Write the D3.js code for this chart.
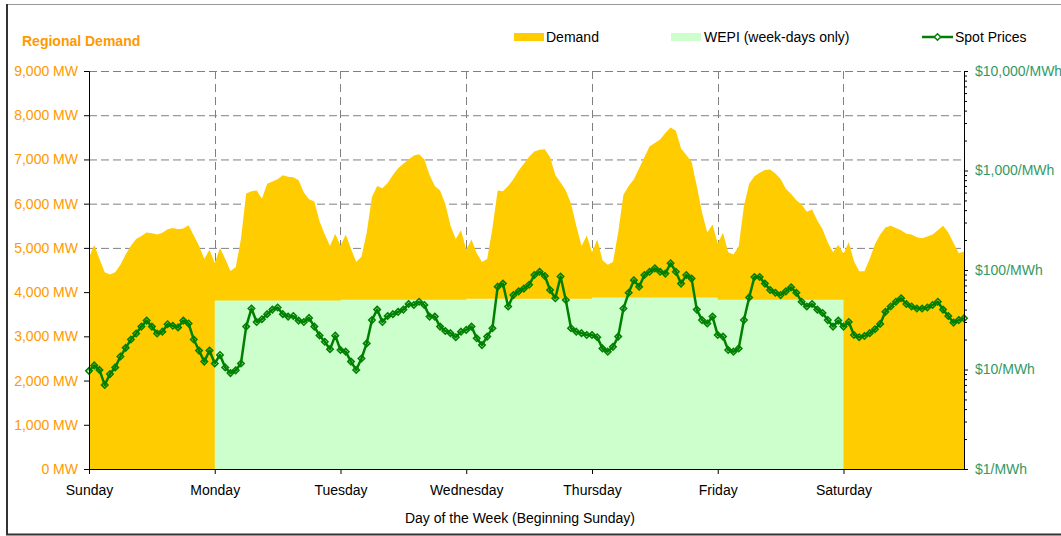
<!DOCTYPE html>
<html><head><meta charset="utf-8">
<script src="https://cdn.jsdelivr.net/npm/d3@7"></script>
<style>
html,body{margin:0;padding:0;background:#fff;}
svg{display:block;font-family:"Liberation Sans",Arial,sans-serif;}
</style></head>
<body><svg id="c" width="1061" height="536"></svg>
<script>
// ---- data ----
const dayLabels = ["Sunday","Monday","Tuesday","Wednesday","Thursday","Friday","Saturday"];
const demandSun = [4780,5070,4750,4450,4400,4450,4620,4850,5050,5200,5270,5350,5330,5300,5340,5420,5450,5420,5440,5510,5280,5050,4750,4960];
const demandMon = [4660,5000,4750,4480,4560,5200,6230,6280,6300,6110,6450,6500,6550,6640,6610,6600,6530,6250,6100,6050,5600,5300,5040,5320];
const demandTue = [5050,5300,4980,4680,4800,5340,6150,6400,6350,6470,6650,6800,6900,7000,7090,7115,7000,6650,6400,6300,6000,5500,5200,5400];
const demandWed = [4960,5190,4880,4680,4750,5450,6300,6280,6400,6550,6750,6900,7060,7180,7220,7230,7050,6650,6480,6300,6000,5500,5040,5280];
const demandThu = [4900,5190,4720,4620,4680,5350,6200,6400,6550,6800,7050,7300,7370,7450,7600,7720,7650,7250,7100,6950,6400,5800,5350,5530];
const demandFri = [5100,5340,4900,4850,5030,5950,6450,6620,6700,6760,6775,6680,6560,6340,6220,6080,5980,5820,5870,5620,5420,5120,4900,5070];
const demandSat = [4870,5130,4700,4470,4470,4750,5080,5300,5460,5500,5450,5400,5320,5300,5240,5220,5260,5300,5400,5500,5350,5110,4880,4920];

const priceSun = [9.7,11.0,9.9,7.0,9.0,10.5,13.5,16.5,20,23,27,31,27,23,24,28.5,27.5,26.5,31,29,20,15.5,12,15.5];
const priceMon = [11.5,14,10.5,9.2,9.8,11.5,27,41,30,32,36,40,42,36,34,34.5,31,30,33,27,22,19,16,21.9];
const priceTue = [15.7,15.1,12.0,9.9,12.9,18.3,31.4,40,30,34.5,36,38,40,45.5,44.5,48,44.5,34,34,27,24.4,23.2,21.1,24];
const priceWed = [25,27,20.6,17.6,21.4,26,68,73,43,56,61,65,71,89,96,87,63,52,86,50,26,24,23.2,22.2];
const priceThu = [22.2,21.1,16.3,15.1,16.9,21.4,41,59,79,68,89,96,104,96,92,117,96,73,89,82,40,31.4,29,34];
const priceFri = [22.2,21.4,15.7,15.1,16.3,31.4,53,85,85,73,63,59,56,61,67,59,48,43,45.5,40,37,31.4,27,31];
const priceSat = [27,30,22.2,21.1,21.7,23.2,25.4,28.7,38,43,48,52,45.5,43,41,41,42,44.5,48,40,34.5,29.6,31.4,32.7];

const wepiDayIndex = [1,2,3,4,5];           // Monday..Friday
const wepiMW = [3810,3830,3850,3880,3830];

const leftTicks = [0,1000,2000,3000,4000,5000,6000,7000,8000,9000];
const rightTicks = [1,10,100,1000,10000];

const demand = [].concat(demandSun,demandMon,demandTue,demandWed,demandThu,demandFri,demandSat);
const price = [].concat(priceSun,priceMon,priceTue,priceWed,priceThu,priceFri,priceSat);
const hoursPerDay = 24;

// ---- layout ----
const svg = d3.select("#c");
const L = 89, R = 964, T = 71, B = 469;
const x = d3.scaleLinear().domain([0, demand.length - 1]).range([L, R]);
const yL = d3.scaleLinear().domain([0, 9000]).range([B, T]);
const yR = d3.scaleLog().domain([1, 10000]).range([B, T]);

const orange = "#FF9900", green = "#339966", lineGreen = "#008000";

// frame
svg.append("line").attr("x1",7).attr("x2",1061).attr("y1",4.5).attr("y2",4.5).attr("stroke","#999").attr("stroke-width",1);
svg.append("line").attr("x1",7).attr("x2",7).attr("y1",4).attr("y2",535).attr("stroke","#333").attr("stroke-width",2);
svg.append("line").attr("x1",6).attr("x2",1061).attr("y1",534.5).attr("y2",534.5).attr("stroke","#333").attr("stroke-width",2);

// gridlines
const grid = svg.append("g");
leftTicks.filter(v=>v>0).forEach(v=>{
  grid.append("line").attr("x1",L).attr("x2",R).attr("y1",yL(v)+0.5).attr("y2",yL(v)+0.5)
    .attr("stroke","#808080").attr("stroke-dasharray","8,4");
});
dayLabels.forEach((d,i)=>{
  if(i===0) return;
  const xx = Math.round(x(i*hoursPerDay))+0.5;
  grid.append("line").attr("x1",xx).attr("x2",xx).attr("y1",T).attr("y2",B)
    .attr("stroke","#808080").attr("stroke-dasharray","8,5");
});

// demand area
const area = d3.area().x((d,i)=>x(i)).y0(yL(0)).y1(d=>yL(d));
svg.append("path").datum(demand).attr("d",area).attr("fill","#FFCC00");

// WEPI step area (one path, no seams)
const wepiPts = wepiDayIndex.map((di,k)=>({h:di*hoursPerDay, v:wepiMW[k]}));
wepiPts.push({h:(wepiDayIndex[wepiDayIndex.length-1]+1)*hoursPerDay, v:wepiMW[wepiMW.length-1]});
const wepiArea = d3.area().curve(d3.curveStepAfter).x(d=>x(d.h)).y0(yL(0)).y1(d=>yL(d.v));
svg.append("path").datum(wepiPts).attr("d",wepiArea).attr("fill","#CCFFCC");

// spot price line
const line = d3.line().x((d,i)=>x(i)).y(d=>yR(d));
svg.append("path").datum(price).attr("d",line).attr("fill","none")
  .attr("stroke",lineGreen).attr("stroke-width",2.5).attr("stroke-linejoin","round");
const diamond = d3.symbol().type(d3.symbolDiamond2).size(26);
svg.append("g").selectAll("path").data(price).join("path")
  .attr("d",diamond).attr("transform",(d,i)=>`translate(${x(i)},${yR(d)})`)
  .attr("fill","none").attr("stroke",lineGreen).attr("stroke-width",1.6);

// axes
const axL = d3.axisLeft(yL).tickValues(leftTicks).tickSize(5).tickPadding(6)
  .tickFormat(v=>d3.format(",")(v)+" MW");
const gL = svg.append("g").attr("transform",`translate(${L},0)`).call(axL);
gL.select(".domain").attr("stroke","#000");
gL.selectAll("text").attr("fill",orange).style("font-size","14px").attr("font-family","Liberation Sans, Arial, sans-serif");

const minor = [];
for(let e=0;e<4;e++) for(let m=2;m<=9;m++) minor.push(m*Math.pow(10,e));
const axRm = d3.axisRight(yR).tickValues(minor).tickSize(3).tickFormat("");
const gRm = svg.append("g").attr("transform",`translate(${R},0)`).call(axRm);
gRm.select(".domain").remove();
const axR = d3.axisRight(yR).tickValues(rightTicks).tickSize(4).tickPadding(7)
  .tickFormat(v=>"$"+d3.format(",")(v)+"/MWh");
const gR = svg.append("g").attr("transform",`translate(${R},0)`).call(axR);
gR.select(".domain").attr("stroke","#000");
gR.selectAll("text").attr("fill",green).style("font-size","14px").attr("font-family","Liberation Sans, Arial, sans-serif");

const axB = d3.axisBottom(x).tickValues(dayLabels.map((d,i)=>i*hoursPerDay)).tickSize(5).tickPadding(11)
  .tickFormat((v,i)=>dayLabels[i]);
const gB = svg.append("g").attr("transform",`translate(0,${B})`).call(axB);
gB.select(".domain").attr("d",`M${L},0.5H${R}`).attr("stroke","#000");
gB.selectAll("text").attr("fill","#000").style("font-size","14px").attr("font-family","Liberation Sans, Arial, sans-serif");

svg.append("text").attr("x",520).attr("y",523).attr("text-anchor","middle")
  .style("font-size","14px").text("Day of the Week (Beginning Sunday)");

// title / legend
svg.append("text").attr("x",22).attr("y",46).attr("fill",orange).attr("font-weight","bold")
  .style("font-size","14px").text("Regional Demand");
svg.append("rect").attr("x",514).attr("y",33).attr("width",30).attr("height",8).attr("fill","#FFCC00");
svg.append("text").attr("x",546).attr("y",42).style("font-size","14px").text("Demand");
svg.append("rect").attr("x",671).attr("y",33).attr("width",30).attr("height",8).attr("fill","#CCFFCC");
svg.append("text").attr("x",704).attr("y",42).style("font-size","14px").text("WEPI (week-days only)");
svg.append("line").attr("x1",922).attr("x2",953).attr("y1",37).attr("y2",37).attr("stroke",lineGreen).attr("stroke-width",2.5);
svg.append("path").attr("d",diamond).attr("transform","translate(937.5,37)").attr("fill","#fff").attr("stroke",lineGreen).attr("stroke-width",1.4);
svg.append("text").attr("x",955).attr("y",42).style("font-size","14px").text("Spot Prices");
</script></body></html>
